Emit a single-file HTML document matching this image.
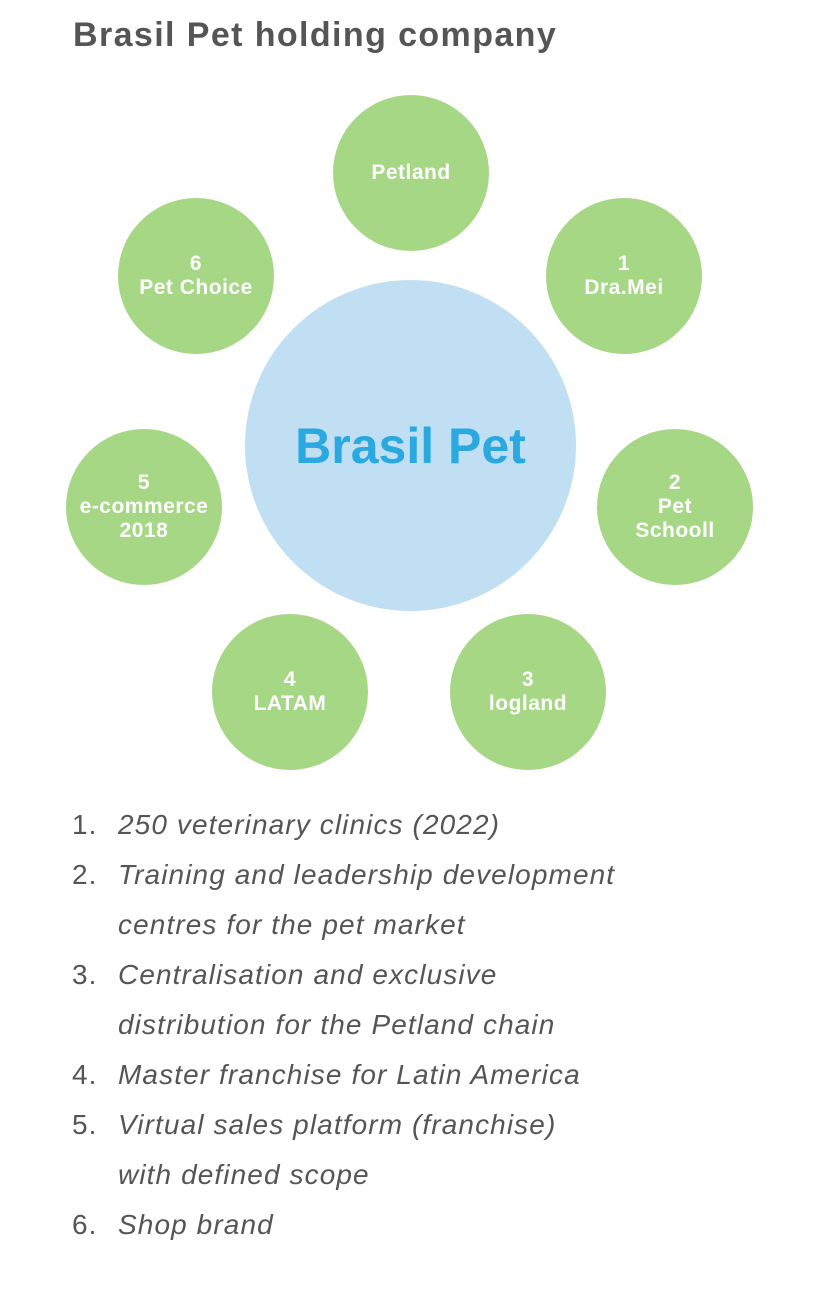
<!DOCTYPE html>
<html><head><meta charset="utf-8"><style>
body{margin:0;width:827px;height:1299px;background:#fff;position:relative;font-family:"Liberation Sans",sans-serif;overflow:hidden}
.t{position:absolute;left:73px;top:16px;font-size:34px;font-weight:bold;color:#555;letter-spacing:1.4px}
.c{position:absolute;border-radius:50%;display:flex;align-items:center;justify-content:center;text-align:center}
.g{width:156px;height:156px;background:#a5d785;color:#fff;font-weight:bold;font-size:21px;line-height:24px;letter-spacing:0.5px}
.big{left:245px;top:280px;width:331px;height:331px;background:#c0dff3;color:#2aa8e0;font-weight:bold;font-size:50px}
.l{position:absolute;left:72px;font-size:28px;font-style:italic;color:#555;line-height:50px;letter-spacing:1.1px}
.l span{position:absolute;left:0;font-style:normal}
.l div{margin-left:46px}
</style></head><body>
<div class="t">Brasil Pet holding company</div>
<div class="c big">Brasil Pet</div>
<div class="c g" style="left:333px;top:95px">Petland</div>
<div class="c g" style="left:546px;top:198px">1<br>Dra.Mei</div>
<div class="c g" style="left:597px;top:429px">2<br>Pet<br>Schooll</div>
<div class="c g" style="left:450px;top:614px">3<br>logland</div>
<div class="c g" style="left:212px;top:614px">4<br>LATAM</div>
<div class="c g" style="left:66px;top:429px">5<br>e-commerce<br>2018</div>
<div class="c g" style="left:118px;top:198px">6<br>Pet Choice</div>
<div class="l" style="top:800px"><span>1.</span><div>250 veterinary clinics (2022)</div></div>
<div class="l" style="top:850px"><span>2.</span><div>Training and leadership development<br>centres for the pet market</div></div>
<div class="l" style="top:950px"><span>3.</span><div>Centralisation and exclusive<br>distribution for the Petland chain</div></div>
<div class="l" style="top:1050px"><span>4.</span><div>Master franchise for Latin America</div></div>
<div class="l" style="top:1100px"><span>5.</span><div>Virtual sales platform (franchise)<br>with defined scope</div></div>
<div class="l" style="top:1200px"><span>6.</span><div>Shop brand</div></div>
</body></html>
